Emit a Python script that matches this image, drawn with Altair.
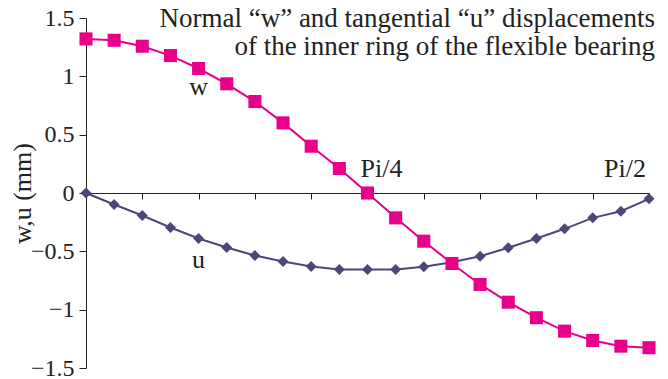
import altair as alt
import pandas as pd

# ---- data ----
idx = list(range(21))  # angle steps from 0 to Pi/2
w_vals = [1.321, 1.309, 1.258, 1.178, 1.067, 0.936, 0.784, 0.601, 0.401, 0.210, 0.0,
          -0.213, -0.413, -0.604, -0.784, -0.936, -1.069, -1.184, -1.264, -1.313, -1.326]
u_vals = [0.0, -0.099, -0.193, -0.296, -0.390, -0.467, -0.536, -0.587, -0.630, -0.656, -0.656,
          -0.656, -0.632, -0.593, -0.542, -0.470, -0.390, -0.307, -0.213, -0.156, -0.050]
y_ticks = [-1.5, -1.0, -0.5, 0.0, 0.5, 1.0, 1.5]
title_lines = ["Normal \u201cw\u201d and tangential \u201cu\u201d displacements",
               "of the inner ring of the flexible bearing"]
y_title = "w,u (mm)"

FONT = "Liberation Serif"
W_COLOR = "#E8008A"
U_COLOR = "#4A4878"
AX = "#222222"
PW, PH = 563, 350

df = pd.DataFrame({"x": idx, "w": w_vals, "u": u_vals})

xenc = alt.X("x:Q", scale=alt.Scale(domain=[0, 20], nice=False, zero=False),
             axis=alt.Axis(offset=-PH / 2, values=idx, labels=False, tickSize=6,
                           domainColor=AX, tickColor=AX, domainWidth=1, tickWidth=1,
                           grid=False, title=None))

def yenc(field):
    return alt.Y(f"{field}:Q", scale=alt.Scale(domain=[-1.5, 1.5], nice=False),
                 axis=alt.Axis(values=y_ticks, format="~g", tickSize=7, labelPadding=5,
                               labelFont=FONT, labelFontSize=24, labelColor=AX,
                               domainColor=AX, tickColor=AX, grid=False,
                               title=y_title, titleFont=FONT, titleFontSize=26,
                               titleFontWeight="normal", titleColor=AX,
                               titleX=-64, titleY=PH / 2, titleAngle=270,
                               titleAlign="center", titleBaseline="middle"))

base = alt.Chart(df)

u_line = base.mark_line(color=U_COLOR, strokeWidth=2).encode(x=xenc, y=yenc("u"))
u_pts = base.mark_point(shape="diamond", filled=True, size=120, color=U_COLOR, opacity=1).encode(x=xenc, y=yenc("u"))
w_line = base.mark_line(color=W_COLOR, strokeWidth=2).encode(x=xenc, y=yenc("w"))
w_pts = base.mark_point(shape="square", filled=True, size=170, color=W_COLOR, opacity=1).encode(x=xenc, y=yenc("w"))

lab_w = base.transform_filter(alt.datum.x == 4).mark_text(
    text="w", font=FONT, fontSize=26, color=AX, baseline="alphabetic", dy=26
).encode(x="x:Q", y="w:Q")
lab_u = base.transform_filter(alt.datum.x == 4).mark_text(
    text="u", font=FONT, fontSize=26, color=AX, baseline="alphabetic", dy=29
).encode(x="x:Q", y=alt.Y("u:Q"))

pi_df = pd.DataFrame({"x": [10, 20], "y": [0.0, 0.0], "t": ["Pi/4", "Pi/2"]})
pi4 = alt.Chart(pi_df).transform_filter(alt.datum.t == "Pi/4").mark_text(
    font=FONT, fontSize=26, color=AX, baseline="alphabetic", align="center", dx=14, dy=-16
).encode(x="x:Q", y="y:Q", text="t:N")
pi2 = alt.Chart(pi_df).transform_filter(alt.datum.t == "Pi/2").mark_text(
    font=FONT, fontSize=26, color=AX, baseline="alphabetic", align="right", dx=-3, dy=-16
).encode(x="x:Q", y="y:Q", text="t:N")

title = alt.Chart(pd.DataFrame({"a": [0]})).mark_text(
    text=title_lines, font=FONT, fontSize=27, color=AX, align="right",
    baseline="alphabetic", lineHeight=28
).encode(x=alt.value(PW + 6), y=alt.value(9))

chart = alt.layer(u_line, u_pts, w_line, w_pts, lab_w, lab_u, pi4, pi2, title).properties(
    width=PW, height=PH,
    autosize=alt.AutoSizeParams(type="none"),
    padding={"left": 86, "top": 18, "right": 19, "bottom": 11},
    background="white",
).configure_view(stroke=None)

chart.save("out.html", embed_options={"renderer": "svg", "actions": False})
